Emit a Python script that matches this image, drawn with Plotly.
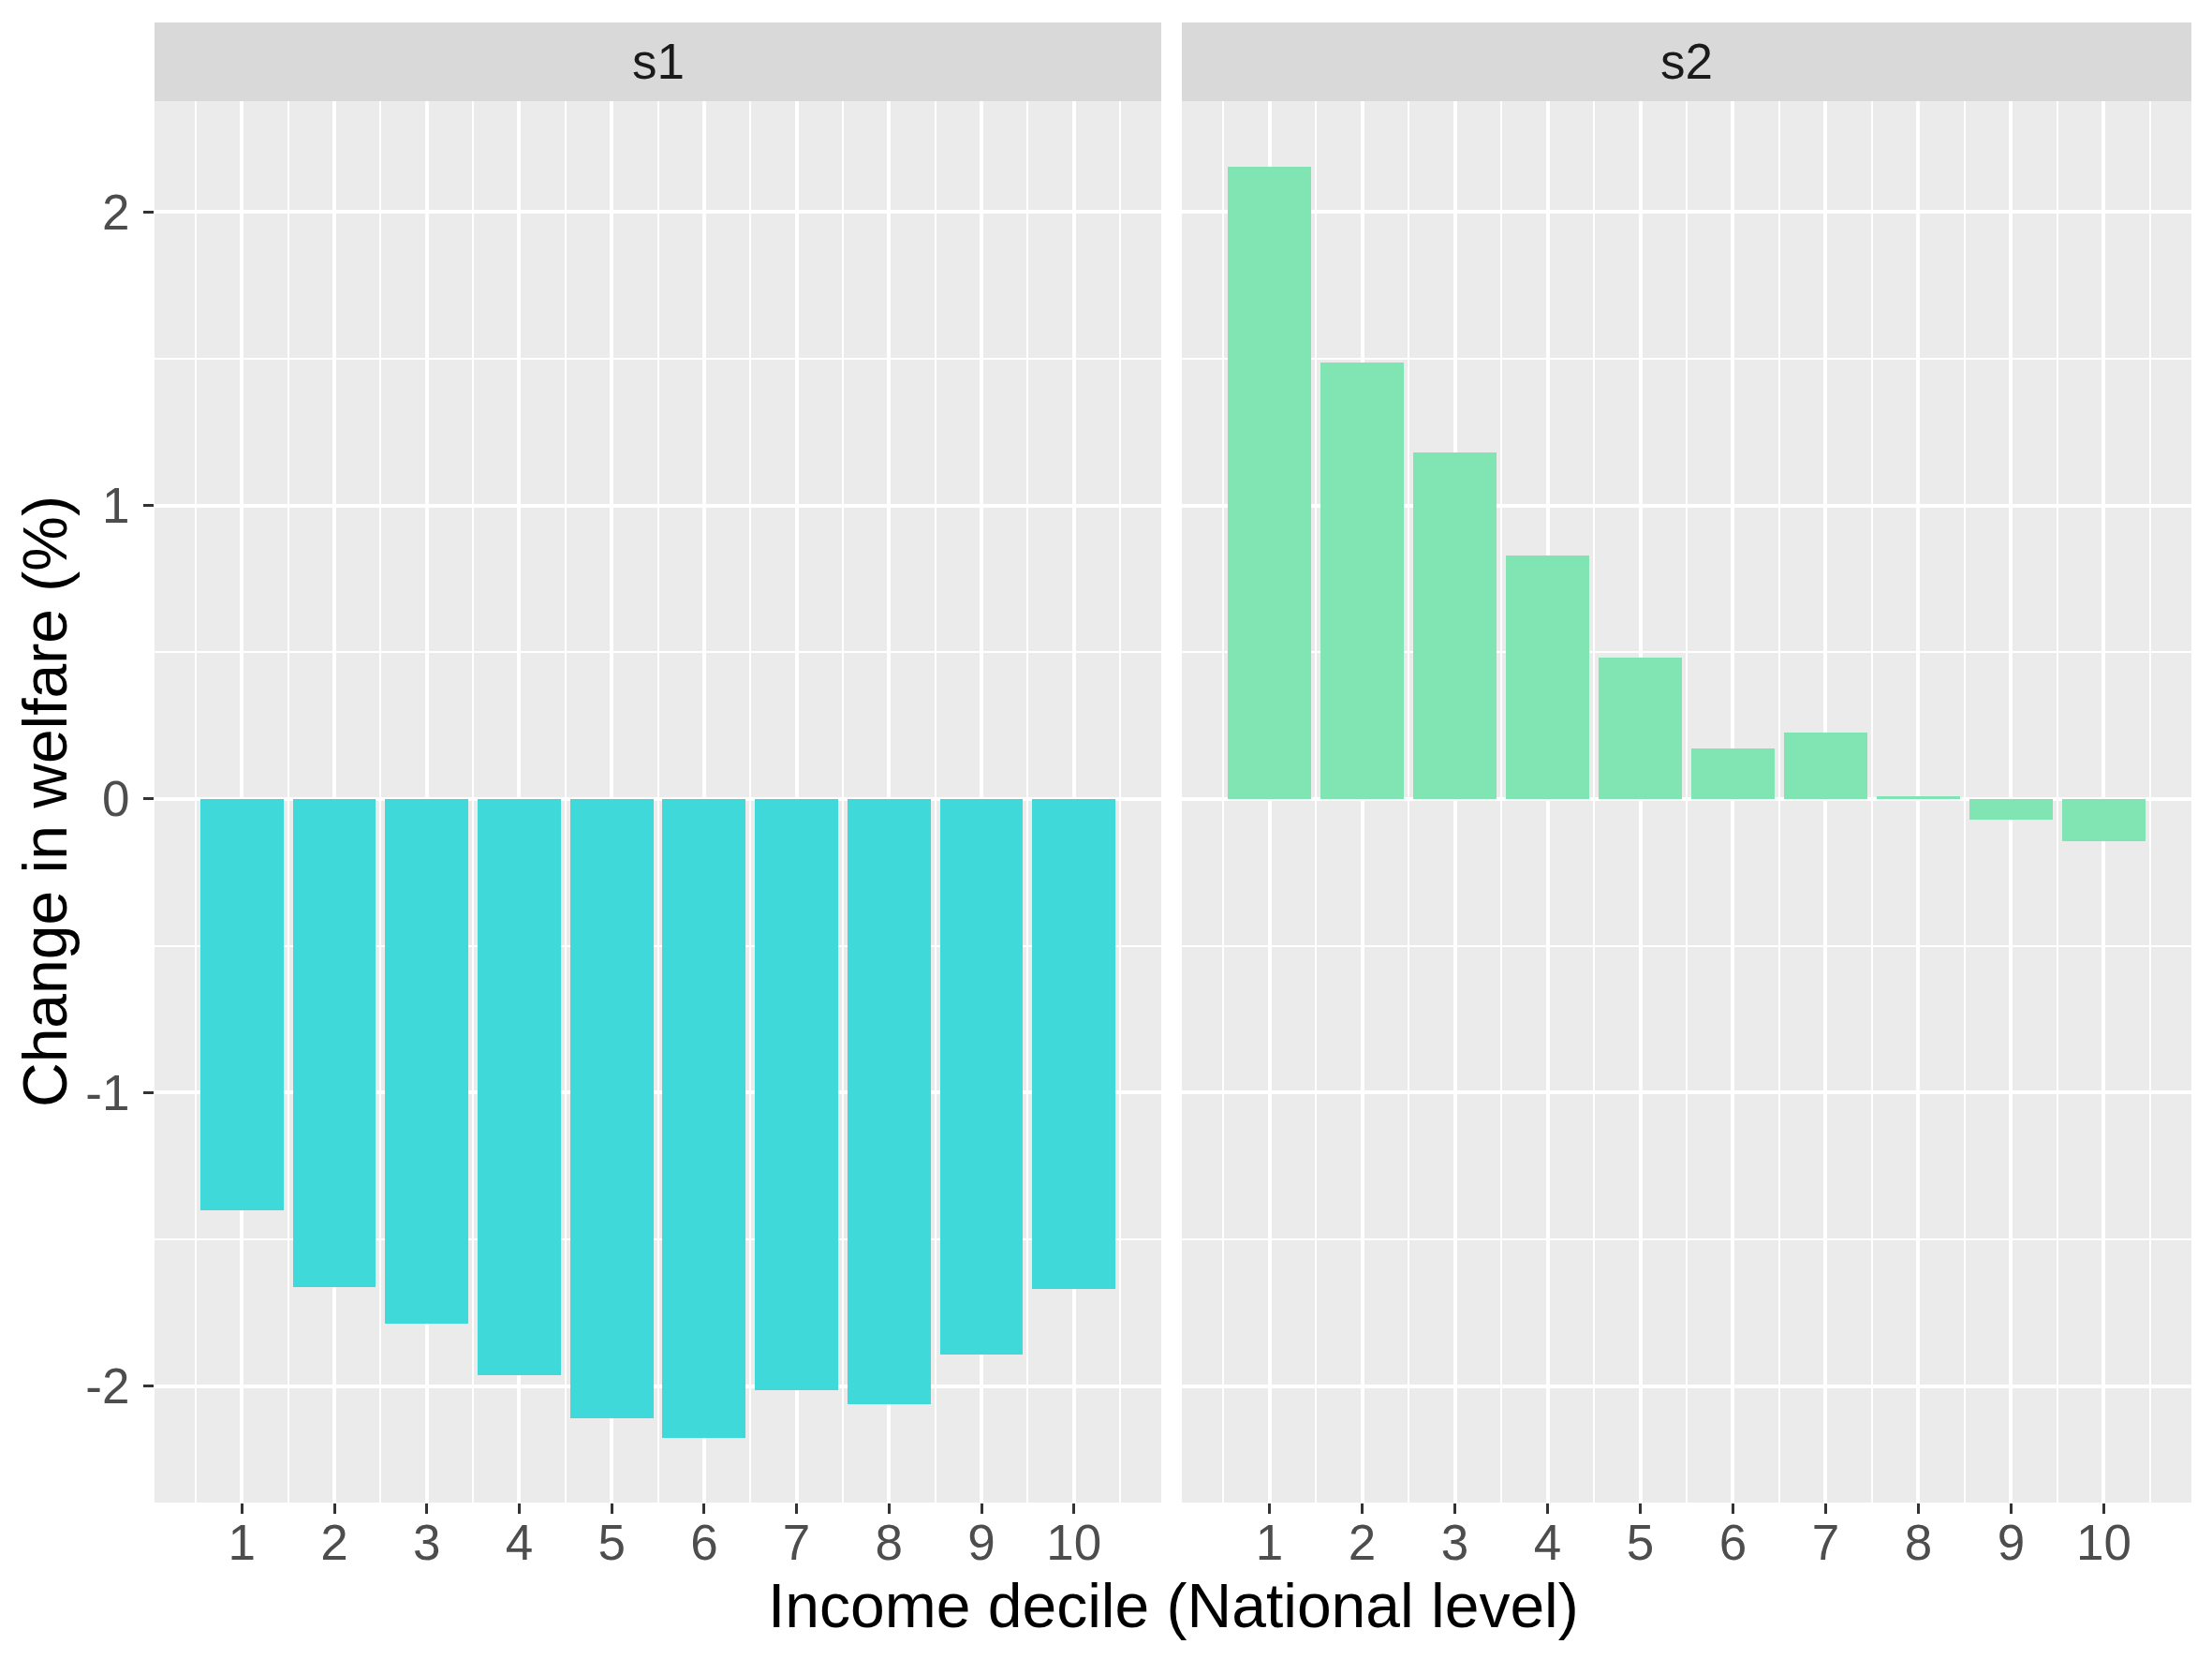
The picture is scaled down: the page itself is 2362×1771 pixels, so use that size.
import plotly.graph_objects as go

deciles = [1, 2, 3, 4, 5, 6, 7, 8, 9, 10]
s1_values = [-1.40, -1.664, -1.789, -1.962, -2.110, -2.177, -2.014, -2.062, -1.894, -1.669]
s2_values = [2.153, 1.487, 1.180, 0.830, 0.480, 0.173, 0.225, 0.010, -0.072, -0.144]
panels = ["s1", "s2"]
y_ticks = [-2, -1, 0, 1, 2]
y_minor = [-1.5, -0.5, 0.5, 1.5]
x_minor = [0.5 + i for i in range(11)]

W, H = 2362, 1771
ML, MR, MT, MB = 157, 30, 16, 175
plot_w = W - ML - MR
plot_h = H - MT - MB
strip_px = 84
ytop = 1 - strip_px / plot_h
left_dom = [0, (1232 - ML) / plot_w]
right_dom = [(1254 - ML) / plot_w, 1]

FONT = "Liberation Sans, Arial, Helvetica, sans-serif"
PANEL_BG = "#EBEBEB"
STRIP_BG = "#D9D9D9"

fig = go.Figure()
fig.add_trace(go.Bar(x=deciles, y=s1_values, width=0.9, marker=dict(color="#40D9D9", line=dict(width=0)),
                     xaxis="x", yaxis="y", showlegend=False))
fig.add_trace(go.Bar(x=deciles, y=s2_values, width=0.9, marker=dict(color="#80E5B3", line=dict(width=0)),
                     xaxis="x2", yaxis="y2", showlegend=False))

xrange = [0.055, 10.945]
yrange = [-2.397, 2.377]

common_x = dict(range=xrange, tickmode="array", tickvals=deciles, ticktext=[str(d) for d in deciles],
                showgrid=True, gridcolor="white", gridwidth=4, zeroline=False, showline=False,
                ticks="outside", ticklen=11, tickwidth=3, tickcolor="#333333", ticklabelstandoff=-15,
                tickfont=dict(family=FONT, size=53, color="#4D4D4D"),
                minor=dict(tickmode="array", tickvals=x_minor, showgrid=True, gridcolor="white", gridwidth=2, ticks=""),
                fixedrange=True)
common_y = dict(range=yrange, tickmode="array", tickvals=y_ticks, ticktext=[str(v) for v in y_ticks],
                showgrid=True, gridcolor="white", gridwidth=4, zeroline=False, showline=False,
                minor=dict(tickmode="array", tickvals=y_minor, showgrid=True, gridcolor="white", gridwidth=2, ticks=""),
                domain=[0, ytop], fixedrange=True)

fig.update_layout(
    width=W, height=H,
    margin=dict(l=ML, r=MR, t=MT, b=MB),
    paper_bgcolor="white",
    plot_bgcolor=PANEL_BG,
    bargap=0,
    xaxis=dict(common_x, domain=left_dom, anchor="y"),
    xaxis2=dict(common_x, domain=right_dom, anchor="y2"),
    yaxis=dict(common_y, anchor="x", ticks="outside", ticklen=11, tickwidth=3, tickcolor="#333333",
               ticklabelstandoff=4, tickfont=dict(family=FONT, size=53, color="#4D4D4D")),
    yaxis2=dict(common_y, anchor="x2", showticklabels=False, ticks=""),
)

# Strips
for dom, label in zip([left_dom, right_dom], panels):
    fig.add_shape(type="rect", xref="paper", yref="paper", x0=dom[0], x1=dom[1], y0=ytop, y1=1,
                  fillcolor=STRIP_BG, line=dict(width=0), layer="below")
    fig.add_annotation(x=(dom[0] + dom[1]) / 2, y=(ytop + 1) / 2, xref="paper", yref="paper",
                       text=label, showarrow=False, xanchor="center", yanchor="middle",
                       font=dict(family=FONT, size=53, color="#1A1A1A"))

# Axis titles
fig.add_annotation(x=0.5, y=-(1706 - (H - MB)) / plot_h, xref="paper", yref="paper",
                   text="Income decile (National level)", showarrow=False,
                   xanchor="center", yanchor="middle", font=dict(family=FONT, size=66, color="black"))
fig.add_annotation(x=-(ML - 40) / plot_w, y=ytop / 2, xref="paper", yref="paper",
                   text="Change in welfare (%)", showarrow=False, textangle=-90,
                   xanchor="center", yanchor="middle", font=dict(family=FONT, size=66, color="black"))

fig.write_html("out.html")
